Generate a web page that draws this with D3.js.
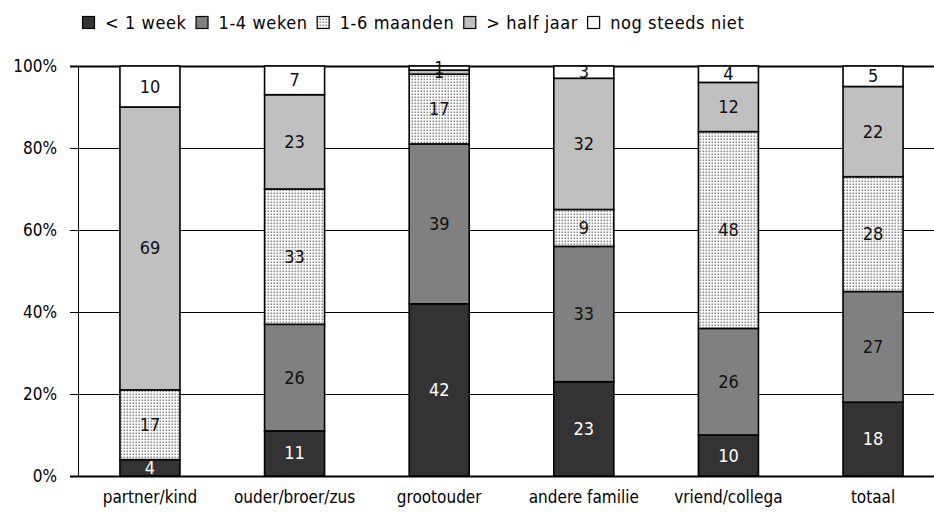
<!DOCTYPE html>
<html>
<head>
<meta charset="utf-8">
<script src="https://cdn.jsdelivr.net/npm/d3@7"></script>
<style>
  body { margin: 0; background: #fff; }
  text { font-family: "Liberation Sans Narrow", "DejaVu Sans Condensed", sans-serif; }
</style>
</head>
<body>
<script>
// data
var categories = ["partner/kind", "ouder/broer/zus", "grootouder", "andere familie", "vriend/collega", "totaal"];
var series = ["< 1 week", "1-4 weken", "1-6 maanden", "> half jaar", "nog steeds niet"];
var lessWeek   = [4, 11, 42, 23, 10, 18];
var weeks      = [0, 26, 39, 33, 26, 27];
var months     = [17, 33, 17, 9, 48, 28];
var halfYear   = [69, 23, 1, 32, 12, 22];
var notYet     = [10, 7, 1, 3, 4, 5];
var yTicks = [0, 20, 40, 60, 80, 100];

var values = [lessWeek, weeks, months, halfYear, notYet];
var fills = ["#333333", "#808080", "url(#dots)", "#c0c0c0", "#ffffff"];
var labelColor = ["#fff", "#111", "#111", "#111", "#111"];

var width = 934, height = 522,
    margin = {top: 66, left: 78, bottom: 46};

var svg = d3.select("body")
    .append("svg")
    .attr("width", width)
    .attr("height", height);

var defs = svg.append("defs");
var pat = defs.append("pattern")
    .attr("id", "dots")
    .attr("patternUnits", "userSpaceOnUse")
    .attr("width", 3)
    .attr("height", 3);
pat.append("rect").attr("width", 3).attr("height", 3).attr("fill", "#fff");
pat.append("rect").attr("x", 0.5).attr("y", 0.5).attr("width", 1.6).attr("height", 1.6).attr("fill", "#8a8a8a");

// plot area runs past the right edge of the picture
var x = d3.scaleBand()
    .domain(categories)
    .range([margin.left, 945])
    .paddingInner(0.585)
    .paddingOuter(0.29);

var y = d3.scaleLinear()
    .domain([0, 100])
    .range([height - margin.bottom, margin.top]);

// gridlines + y axis
svg.append("g")
    .selectAll("line")
    .data(yTicks)
    .enter()
        .append("line")
        .attr("x1", margin.left - 8)
        .attr("x2", width)
        .attr("y1", function(d) { return Math.round(y(d)) + 0.5; })
        .attr("y2", function(d) { return Math.round(y(d)) + 0.5; })
        .attr("stroke", "#000")
        .attr("stroke-width", function(d) { return (d == 0 || d == 100) ? 2 : 1; });

svg.append("line")
    .attr("x1", margin.left + 0.5).attr("x2", margin.left + 0.5)
    .attr("y1", y(100)).attr("y2", y(0))
    .attr("stroke", "#000");

svg.append("g")
    .selectAll("text")
    .data(yTicks)
    .enter()
        .append("text")
        .attr("x", 57)
        .attr("y", function(d) { return y(d) + 6; })
        .attr("text-anchor", "end")
        .attr("font-size", 17)
        .text(function(d) { return d + "%"; });

// stacked segments
var stackData = categories.map(function(c, i) {
    var row = {cat: c};
    series.forEach(function(s, j) { row[s] = values[j][i]; });
    return row;
});
var stacked = d3.stack().keys(series)(stackData);

var layer = svg.append("g")
    .selectAll("g")
    .data(stacked)
    .enter()
        .append("g")
        .attr("fill", function(d, i) { return fills[i]; });

layer.selectAll("rect")
    .data(function(d) { return d; })
    .enter()
        .filter(function(d) { return d[1] - d[0] > 0; })
        .append("rect")
        .attr("x", function(d) { return x(d.data.cat); })
        .attr("width", x.bandwidth())
        .attr("y", function(d) { return y(d[1]); })
        .attr("height", function(d) { return y(d[0]) - y(d[1]); })
        .attr("stroke", "#000")
        .attr("stroke-width", 1.6);

layer.each(function(s, i) {
    d3.select(this).selectAll("text")
        .data(s)
        .enter()
            .filter(function(d) { return d[1] - d[0] > 0; })
            .append("text")
            .attr("x", function(d) { return x(d.data.cat) + x.bandwidth() / 2; })
            .attr("y", function(d) { return (y(d[0]) + y(d[1])) / 2 + 6; })
            .attr("text-anchor", "middle")
            .attr("font-size", 18)
            .attr("fill", labelColor[i])
            .text(function(d) { return d[1] - d[0]; });
});

// category labels
svg.append("g")
    .selectAll("text")
    .data(categories)
    .enter()
        .append("text")
        .attr("x", function(d) { return x(d) + x.bandwidth() / 2; })
        .attr("y", 503)
        .attr("text-anchor", "middle")
        .attr("font-size", 17)
        .text(function(d) { return d; });

// legend
var legend = svg.append("g").attr("transform", "translate(82,0)");
var lx = 0;
series.forEach(function(s, i) {
    legend.append("rect")
        .attr("x", lx + 0.5).attr("y", 16.5)
        .attr("width", 12).attr("height", 12)
        .attr("fill", fills[i])
        .attr("stroke", "#000")
        .attr("stroke-width", 1.2);
    var t = legend.append("text")
        .attr("x", lx + 23)
        .attr("y", 29)
        .attr("font-size", 18)
        .attr("letter-spacing", 0.6)
        .text(s);
    lx += 23 + t.node().getComputedTextLength() + 9;
});
</script>
</body>
</html>
